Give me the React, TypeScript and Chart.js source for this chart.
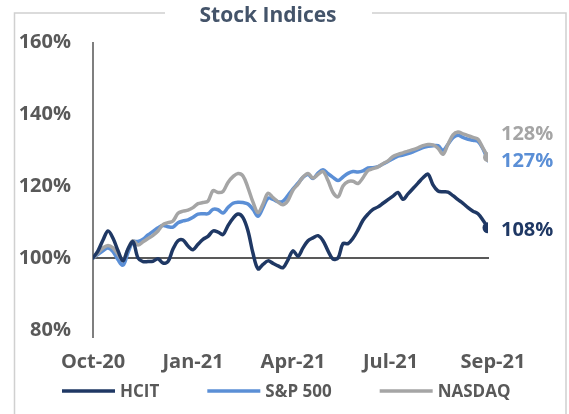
import React, { useEffect, useRef } from "react";
import { Chart, registerables } from "chart.js";

Chart.register(...registerables);

// ---- data (index = sample along Oct-20 .. Sep-21, % of start value) ----
const hcit = [
  100, 102, 105, 107.5, 105.5, 102, 99.2, 102.5, 104.5, 100,
  99, 99, 99.1, 99.8, 98.6, 99, 102.5, 104.8, 105, 103.3,
  102.3, 103.8, 105.2, 106, 107.5, 107.2, 106.5, 109, 111, 112.2,
  111.2, 107.5, 101.3, 97, 98.2, 99.2, 98.5, 97.8, 97.3, 99.5,
  102, 100.5, 102.8, 104.8, 105.6, 106.2, 104.8, 102, 99.7, 100,
  104, 104, 105.5, 107.8, 110.5, 112.2, 113.5, 114.2, 115.2, 116.2,
  117.2, 118.2, 116.3, 117.8, 119.3, 120.8, 122.3, 123.3, 120.3, 118.6,
  118.4, 118.3, 117.3, 116.2, 115.2, 114, 113, 112.3, 110.5, 108.4,
];
const sp500 = [
  100, 101, 102, 102.8, 101.8, 99.5, 98, 101.5, 104.5, 104.6,
  105.2, 106.4, 107.4, 108.4, 109, 108.7, 108.6, 109.8, 110.3, 110.6,
  111.3, 112.2, 112.3, 112.3, 113.5, 113.4, 112.5, 114, 115.2, 115.5,
  115.4, 115, 113.5, 111.6, 114, 116.6, 116.3, 115.6, 115.8, 117.4,
  119.2, 120.8, 122.4, 123.2, 122.1, 123.6, 124.5, 123.4, 122.4, 121.5,
  122.5, 123.5, 124, 123.9, 124.2, 125, 125.1, 125.4, 126.1, 126.8,
  127.6, 128.3, 128.6, 129, 129.5, 130.1, 130.7, 131, 131.2, 131.2,
  129.9, 131.6, 133.4, 134.1, 133.5, 133, 132.7, 132.4, 130.3, 127,
];
const nasdaq = [
  100, 101.4, 102.8, 103.5, 102.8, 101, 99.4, 102.5, 104.8, 103.6,
  104.5, 105.4, 106.3, 107.5, 109.3, 109.8, 110.3, 112.4, 113, 113.3,
  114, 115.1, 115.4, 115.8, 118.7, 118.2, 118.5, 121, 122.6, 123.5,
  122.8, 119.5, 115.5, 112.6, 115, 118, 116.8, 115.6, 114.8, 116,
  118.9, 120.5, 122.5, 123.5, 122.2, 123.2, 124, 121.5, 118.2, 117,
  120, 121.2, 121.3, 120.7, 122.3, 124.3, 124.8, 125.3, 126.2, 127,
  128.2, 128.8, 129.2, 129.7, 130.1, 130.6, 131.2, 131.5, 131.4, 130.5,
  128.8, 131.6, 134.2, 135, 134.5, 134, 133.5, 133, 130.5, 128,
];
const seriesNames = ["HCIT", "S&P 500", "NASDAQ"];
const seriesValues = [hcit, sp500, nasdaq];
const monthLabels = ["Oct-20", "Jan-21", "Apr-21", "Jul-21", "Sep-21"];
const monthIndex = [0, 20, 40, 59.5, 80];
const yTicks = [80, 100, 120, 140, 160];

const COLORS = ["#1F3864", "#5B8FD6", "#A5A5A5"];
const FONT = "'Open Sans', 'Liberation Sans', sans-serif";
const TICK_COLOR = "#595959";

const chromePlugin = {
  id: "chrome",
  beforeDatasetsDraw(chart: any) {
    const { ctx, chartArea, scales } = chart;
    const y100 = scales.y.getPixelForValue(100);
    ctx.save();
    ctx.strokeStyle = "#7F7F7F";
    ctx.lineWidth = 2;
    ctx.beginPath();
    ctx.moveTo(chartArea.left, chartArea.top);
    ctx.lineTo(chartArea.left, chartArea.bottom + 8);
    ctx.stroke();
    ctx.strokeStyle = "#595959";
    ctx.beginPath();
    ctx.moveTo(chartArea.left, y100);
    ctx.lineTo(chartArea.right + 1, y100);
    ctx.stroke();
    ctx.restore();
  },
  afterDraw(chart: any) {
    const { ctx } = chart;
    ctx.save();
    ctx.strokeStyle = "#D0D0D0";
    ctx.lineWidth = 1.5;
    ctx.beginPath();
    ctx.moveTo(165, 13);
    ctx.lineTo(14.5, 13);
    ctx.lineTo(14.5, 430);
    ctx.moveTo(372, 13);
    ctx.lineTo(566, 13);
    ctx.lineTo(566, 430);
    ctx.stroke();
    ctx.fillStyle = "#44546A";
    ctx.font = `bold 21px ${FONT}`;
    ctx.textAlign = "center";
    ctx.textBaseline = "middle";
    ctx.fillText("Stock Indices", 268, 16);

    ctx.font = `bold 17px ${FONT}`;
    ctx.textAlign = "left";
    let x = 62;
    const ly = 391;
    chart.data.datasets.forEach((ds: any) => {
      ctx.strokeStyle = ds.borderColor;
      ctx.lineWidth = 3.5;
      ctx.beginPath();
      ctx.moveTo(x, ly);
      ctx.lineTo(x + 53, ly);
      ctx.stroke();
      ctx.fillStyle = TICK_COLOR;
      ctx.fillText(ds.label, x + 58, ly + 1);
      x += 58 + ctx.measureText(ds.label).width + 48;
    });

    const dy = [3, 0, -23];
    ctx.font = `bold 20px ${FONT}`;
    chart.data.datasets.forEach((ds: any, i: number) => {
      const meta = chart.getDatasetMeta(i);
      const pt = meta.data[meta.data.length - 1];
      const vals = seriesValues[i];
      const v = vals[vals.length - 1];
      ctx.fillStyle = ds.borderColor;
      ctx.fillText(Math.round(v) + "%", pt.x + 13, pt.y + dy[i]);
    });
    ctx.restore();
  },
};

export default function App() {
  const ref = useRef<HTMLCanvasElement>(null);
  useEffect(() => {
    if (!ref.current) return;
    const mk = (arr: number[]) => arr.map((y, i) => ({ x: i, y }));
    const last = hcit.length - 1;
    const endDot = (r: number) => (c: any) => (c.dataIndex === last ? r : 0);
    const chart = new Chart(ref.current, {
      type: "line",
      data: {
        datasets: [
          { label: seriesNames[0], data: mk(hcit), borderColor: COLORS[0], backgroundColor: COLORS[0], order: 0, pointRadius: endDot(5.5) },
          { label: seriesNames[1], data: mk(sp500), borderColor: COLORS[1], backgroundColor: COLORS[1], order: 2, pointRadius: endDot(0) },
          { label: seriesNames[2], data: mk(nasdaq), borderColor: COLORS[2], backgroundColor: COLORS[2], order: 1, pointRadius: endDot(5) },
        ] as any,
      },
      options: {
        animation: false,
        responsive: false,
        devicePixelRatio: 1,
        layout: { padding: { left: 0, top: 42, right: 81, bottom: 34 } },
        elements: {
          line: { borderWidth: 3.5, tension: 0.35, borderCapStyle: "round", borderJoinStyle: "round" },
          point: { borderWidth: 0, hoverRadius: 0 },
        },
        plugins: { legend: { display: false }, title: { display: false }, tooltip: { enabled: false } },
        scales: {
          x: {
            type: "linear",
            min: 0,
            max: last,
            grid: { display: false, drawTicks: false },
            border: { display: false },
            afterBuildTicks: (s: any) => {
              s.ticks = monthIndex.map((v) => ({ value: v }));
            },
            afterFit: (s: any) => {
              s.height = 50;
            },
            ticks: {
              autoSkip: false,
              maxRotation: 0,
              padding: 20,
              color: TICK_COLOR,
              font: { family: FONT, size: 20, weight: "bold" },
              callback: (_v: any, i: number) => monthLabels[i],
            },
          },
          y: {
            min: 80,
            max: 160,
            grid: { display: false, drawTicks: false },
            border: { display: false },
            afterBuildTicks: (s: any) => {
              s.ticks = yTicks.map((v) => ({ value: v }));
            },
            afterFit: (s: any) => {
              s.width = 93;
            },
            ticks: {
              padding: 22,
              color: TICK_COLOR,
              font: { family: FONT, size: 20, weight: "bold" },
              callback: (v: any) => v + "%",
            },
          },
        },
      } as any,
      plugins: [chromePlugin],
    });
    return () => chart.destroy();
  }, []);
  return (
    <div style={{ position: "fixed", left: 0, top: 0, width: 569, height: 414, background: "#fff" }}>
      <canvas ref={ref} width={569} height={414} style={{ display: "block" }} />
    </div>
  );
}
